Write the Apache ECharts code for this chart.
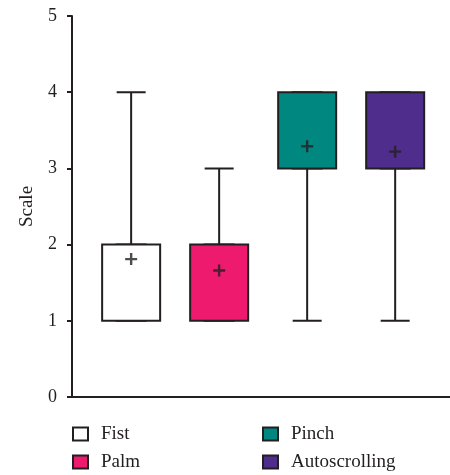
<!DOCTYPE html>
<html>
<head>
<meta charset="utf-8">
<script src="https://cdn.jsdelivr.net/npm/echarts@6/dist/echarts.min.js"></script>
<style>html,body{margin:0;padding:0;background:#fff;}#c{width:450px;height:475px;}</style>
</head>
<body>
<div id="c"></div>
<script>
var categories = ['Fist', 'Palm', 'Pinch', 'Autoscrolling'];
var positions = [0, 1, 2, 3];
var minVals = [1, 1, 1, 1];
var q1Vals = [1, 1, 3, 3];
var medianVals = [2, 2, 3, 3];
var q3Vals = [2, 2, 4, 4];
var maxVals = [4, 3, 4, 4];
var meanVals = [1.81, 1.66, 3.29, 3.22];
var yTicks = [0, 1, 2, 3, 4, 5];

var fills = ['#ffffff', '#ED1A6E', '#00877F', '#4E2D8D'];
var ink = '#231F20';
var serif = '"Liberation Serif", "DejaVu Serif", serif';
var X_MIN = -0.672, X_MAX = 3.623;

var xAxes = [];
for (var i = 0; i < 5; i++) {
  xAxes.push({
    type: 'value', min: X_MIN, max: X_MAX, show: i === 0,
    axisLine: {show: true, onZero: false, lineStyle: {color: ink, width: 2}},
    axisTick: {show: false}, axisLabel: {show: false}, splitLine: {show: false}
  });
}

var series = [];
// whiskers (narrow caps)
series.push({
  type: 'boxplot', name: 'whiskers', xAxisIndex: 4, z: 2,
  boxWidth: [29, 29],
  itemStyle: {color: 'rgba(0,0,0,0)', borderColor: ink, borderWidth: 2},
  emphasis: {disabled: true}, silent: true,
  data: positions.map(function (p, k) {
    return [p, minVals[k], q1Vals[k], medianVals[k], q3Vals[k], maxVals[k]];
  })
});
// boxes
categories.forEach(function (name, k) {
  series.push({
    type: 'boxplot', name: name, xAxisIndex: k, z: 3,
    boxWidth: [58, 58],
    itemStyle: {color: fills[k], borderColor: ink, borderWidth: 2},
    emphasis: {disabled: true}, silent: true,
    data: [[positions[k], q1Vals[k], q1Vals[k], medianVals[k], q3Vals[k], q3Vals[k]]]
  });
});
// means
series.push({
  type: 'scatter', name: 'mean', xAxisIndex: 0, z: 5,
  symbol: 'path://M4,0H6V4H10V6H6V10H4V6H0V4H4Z', symbolSize: 12,
  itemStyle: {color: ink}, silent: true,
  data: positions.map(function (p, k) { return [p, meanVals[k]]; })
});

function legendItems(idx) {
  return idx.map(function (k) {
    return {name: categories[k], icon: 'rect',
      itemStyle: {color: fills[k], borderColor: ink, borderWidth: 2}};
  });
}
var legendCommon = {
  orient: 'vertical', itemWidth: 15, itemHeight: 13, itemGap: 6, top: 423, height: 60,
  padding: 0, selectedMode: false,
  textStyle: {fontFamily: serif, fontSize: 19, lineHeight: 22, color: ink, padding: [0, 0, 0, 8]}
};

var option = {
  animation: false,
  backgroundColor: '#fff',
  grid: {left: 72, right: 0, top: 16, bottom: 78, containLabel: false},
  xAxis: xAxes,
  yAxis: {
    type: 'value', min: yTicks[0], max: yTicks[yTicks.length - 1], interval: 1,
    name: 'Scale', nameLocation: 'middle', nameGap: 35,
    nameTextStyle: {fontFamily: serif, fontSize: 19, color: ink},
    axisLine: {show: true, onZero: false, lineStyle: {color: ink, width: 2}},
    axisTick: {show: true, length: 5, lineStyle: {color: ink, width: 2}},
    axisLabel: {margin: 15, fontFamily: serif, fontSize: 18, color: ink},
    splitLine: {show: false}
  },
  legend: [
    Object.assign({left: 72, data: legendItems([0, 1])}, legendCommon),
    Object.assign({left: 262, data: legendItems([2, 3])}, legendCommon)
  ],
  series: series
};
echarts.init(document.getElementById('c')).setOption(option);
</script>
</body>
</html>
